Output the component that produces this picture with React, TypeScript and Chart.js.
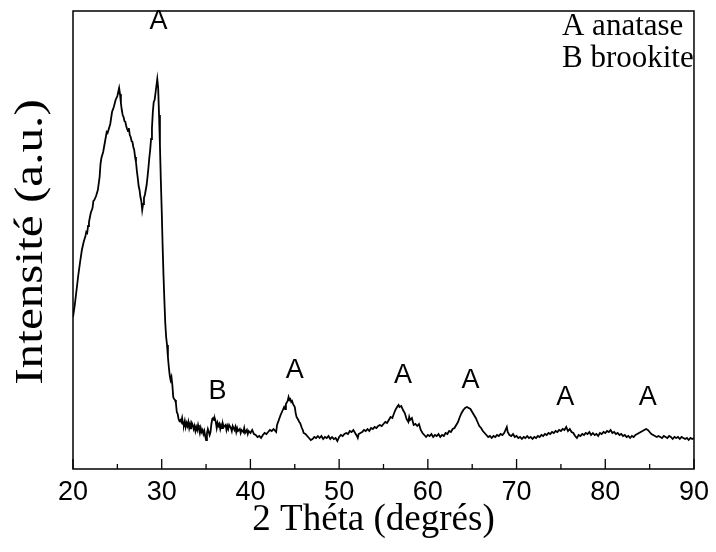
import React, { useEffect, useRef } from 'react';
import { Chart, registerables } from 'chart.js';

Chart.register(...registerables);

// XRD scan: [2θ (deg), intensity (a.u.)]
const xrdPattern: [number, number][] = [
  [20.0, 152], [20.2, 164], [20.4, 179], [20.6, 194], [20.8, 207], [21.0, 219], [21.2, 227], [21.4, 233],
  [21.5, 237], [21.6, 236], [21.7, 243], [21.8, 247], [22.0, 256], [22.2, 261], [22.3, 268], [22.4, 269],
  [22.6, 273], [22.8, 279], [23.0, 292], [23.1, 305], [23.2, 311], [23.4, 317], [23.6, 327], [23.8, 337],
  [23.9, 336], [24.0, 339], [24.2, 345], [24.4, 357], [24.6, 362], [24.8, 369], [25.0, 373], [25.1, 377],
  [25.2, 381], [25.3, 375], [25.4, 366], [25.5, 359], [25.6, 354], [25.7, 352], [25.8, 348], [25.9, 347],
  [26.0, 343], [26.1, 340], [26.2, 338], [26.3, 341], [26.4, 334], [26.5, 332], [26.6, 328], [26.7, 327],
  [26.8, 322], [26.9, 319], [27.0, 312], [27.1, 307], [27.2, 298], [27.3, 291], [27.4, 283], [27.5, 279],
  [27.6, 272], [27.7, 268], [27.8, 259], [27.9, 265], [28.0, 271], [28.1, 274], [28.2, 279], [28.3, 284],
  [28.4, 292], [28.5, 301], [28.6, 311], [28.7, 319], [28.8, 330], [28.9, 341], [29.0, 357], [29.1, 367],
  [29.2, 369], [29.3, 376], [29.4, 383], [29.5, 390], [29.6, 381], [29.7, 354], [29.8, 324], [29.9, 289],
  [30.0, 259], [30.1, 224], [30.2, 194], [30.3, 169], [30.4, 146], [30.5, 132], [30.6, 124], [30.7, 112],
  [30.8, 102], [30.9, 94], [31.0, 89], [31.1, 92], [31.2, 84], [31.3, 72], [31.4, 70], [31.5, 69],
  [31.6, 66], [31.7, 57], [31.8, 55], [31.9, 50], [32.0, 48], [32.1, 49], [32.2, 47], [32.3, 51],
  [32.4, 45], [32.5, 44], [32.6, 48], [32.7, 42], [32.8, 46], [32.9, 43], [33.0, 47], [33.1, 41],
  [33.2, 45], [33.3, 40], [33.4, 46], [33.5, 44], [33.6, 40], [33.7, 43], [33.8, 38], [33.9, 42],
  [34.0, 39], [34.1, 44], [34.2, 40], [34.3, 36], [34.4, 41], [34.5, 37], [34.6, 39], [34.7, 35],
  [34.8, 38], [34.9, 33], [35.0, 29], [35.1, 36], [35.2, 40], [35.3, 37], [35.4, 34], [35.5, 37],
  [35.6, 45], [35.7, 50], [35.8, 51], [35.9, 49], [36.0, 50], [36.1, 47], [36.2, 41], [36.3, 46],
  [36.4, 43], [36.5, 45], [36.6, 40], [36.7, 44], [36.8, 41], [36.9, 45], [37.0, 42], [37.2, 44],
  [37.3, 39], [37.4, 43], [37.5, 40], [37.6, 44], [37.8, 41], [37.9, 38], [38.0, 43], [38.2, 39],
  [38.3, 42], [38.4, 37], [38.5, 41], [38.6, 38], [38.8, 40], [38.9, 36], [39.0, 39], [39.2, 37],
  [39.3, 41], [39.4, 36], [39.6, 39], [39.7, 35], [39.8, 38], [40.0, 36], [40.2, 39], [40.4, 35],
  [40.6, 34], [40.8, 32], [41.0, 33], [41.2, 31], [41.4, 34], [41.6, 36], [41.8, 35], [42.0, 37],
  [42.2, 39], [42.4, 38], [42.6, 40], [42.8, 38], [42.9, 37], [43.0, 44], [43.2, 49], [43.4, 54],
  [43.6, 58], [43.8, 62], [43.9, 60], [44.0, 65], [44.2, 68], [44.3, 72], [44.4, 69], [44.5, 70],
  [44.6, 67], [44.7, 68], [44.8, 65], [45.0, 62], [45.1, 56], [45.2, 52], [45.4, 49], [45.5, 47],
  [45.6, 46], [45.8, 41], [45.9, 39], [46.0, 36], [46.2, 35], [46.4, 33], [46.6, 31], [46.8, 29],
  [47.0, 30], [47.2, 32], [47.4, 31], [47.6, 33], [47.8, 31], [48.0, 33], [48.2, 30], [48.4, 32],
  [48.6, 31], [48.8, 33], [49.0, 30], [49.2, 32], [49.4, 30], [49.6, 31], [49.8, 28], [50.0, 32],
  [50.2, 34], [50.4, 33], [50.6, 35], [50.8, 36], [51.0, 35], [51.2, 38], [51.4, 37], [51.6, 39],
  [51.8, 36], [52.0, 33], [52.1, 31], [52.2, 35], [52.4, 36], [52.6, 37], [52.8, 39], [53.0, 38],
  [53.2, 40], [53.4, 38], [53.6, 41], [53.8, 40], [54.0, 42], [54.2, 41], [54.4, 43], [54.6, 44],
  [54.8, 43], [55.0, 45], [55.2, 47], [55.4, 46], [55.6, 49], [55.8, 52], [56.0, 51], [56.2, 56],
  [56.4, 60], [56.6, 63], [56.7, 64], [56.8, 62], [57.0, 63], [57.2, 59], [57.4, 56], [57.6, 50],
  [57.8, 47], [57.9, 52], [58.0, 49], [58.2, 51], [58.4, 44], [58.6, 45], [58.8, 43], [59.0, 45],
  [59.2, 39], [59.4, 36], [59.6, 34], [59.8, 32], [60.0, 34], [60.2, 33], [60.4, 35], [60.6, 32],
  [60.8, 34], [61.0, 33], [61.2, 35], [61.4, 32], [61.6, 34], [61.8, 33], [62.0, 36], [62.2, 35],
  [62.4, 38], [62.6, 37], [62.8, 40], [63.0, 41], [63.2, 44], [63.4, 47], [63.6, 52], [63.8, 56],
  [64.0, 59], [64.2, 61], [64.4, 62], [64.6, 61], [64.8, 60], [65.0, 57], [65.2, 54], [65.4, 51],
  [65.6, 47], [65.8, 43], [66.0, 41], [66.2, 38], [66.4, 36], [66.6, 34], [66.8, 32], [67.0, 33],
  [67.2, 31], [67.4, 33], [67.6, 32], [67.8, 34], [68.0, 33], [68.2, 35], [68.4, 34], [68.6, 36],
  [68.8, 40], [68.9, 42], [69.0, 37], [69.2, 34], [69.4, 33], [69.6, 35], [69.8, 32], [70.0, 33],
  [70.2, 31], [70.4, 32], [70.6, 30], [70.8, 32], [71.0, 31], [71.2, 33], [71.4, 31], [71.6, 32],
  [71.8, 30], [72.0, 32], [72.2, 31], [72.4, 33], [72.6, 32], [72.8, 34], [73.0, 33], [73.2, 35],
  [73.4, 34], [73.6, 36], [73.8, 35], [74.0, 37], [74.2, 36], [74.4, 38], [74.6, 37], [74.8, 39],
  [75.0, 38], [75.2, 40], [75.4, 39], [75.6, 42], [75.8, 38], [76.0, 40], [76.2, 37], [76.4, 36],
  [76.6, 33], [76.8, 31], [77.0, 34], [77.2, 33], [77.4, 35], [77.6, 34], [77.8, 36], [78.0, 35],
  [78.2, 37], [78.4, 34], [78.6, 36], [78.8, 34], [79.0, 35], [79.2, 33], [79.4, 36], [79.6, 35],
  [79.8, 37], [80.0, 36], [80.2, 38], [80.4, 37], [80.6, 39], [80.8, 36], [81.0, 37], [81.2, 35],
  [81.4, 36], [81.6, 34], [81.8, 35], [82.0, 33], [82.2, 34], [82.4, 32], [82.6, 33], [82.8, 31],
  [83.0, 33], [83.2, 32], [83.4, 34], [83.6, 35], [83.8, 36], [84.0, 37], [84.2, 38], [84.4, 39],
  [84.6, 40], [84.8, 39], [85.0, 37], [85.2, 35], [85.4, 34], [85.6, 33], [85.8, 32], [86.0, 33],
  [86.2, 32], [86.4, 31], [86.6, 33], [86.8, 32], [87.0, 31], [87.2, 33], [87.4, 32], [87.6, 30],
  [87.8, 32], [88.0, 31], [88.2, 32], [88.4, 30], [88.6, 32], [88.8, 31], [89.0, 30], [89.2, 31],
  [89.4, 29], [89.6, 31], [89.8, 30], [90.0, 31],
];

const peakLabelText = ['A', 'B', 'A', 'A', 'A', 'A', 'A'];
const peakLabelX = [29.65, 36.3, 45.0, 57.2, 64.8, 75.5, 84.8];
const peakLabelY = [447, 77, 98, 93, 88, 71, 71];

const legendLines = ['A anatase', 'B brookite'];

const xTitle = '2 Théta (degrés)';
const yTitle = 'Intensité (a.u.)';

const X_MIN = 20;
const X_MAX = 90;
const X_MAJOR = 10;
const Y_MIN = 0;
const Y_MAX = 458;

const SERIF = '"Liberation Serif", "Times New Roman", serif';
const SANS = '"Liberation Sans", Arial, sans-serif';

const annotationPlugin = {
  id: 'xrdAnnotations',
  afterDatasetsDraw(chart: any) {
    const { ctx, chartArea: a, scales } = chart;
    const xs = scales.x;
    const ys = scales.y;
    ctx.save();
    // frame
    ctx.strokeStyle = '#000';
    ctx.lineWidth = 1.5;
    ctx.strokeRect(a.left, a.top, a.right - a.left, a.bottom - a.top);
    // inward major + minor ticks on bottom axis
    const majors: number[] = xs.ticks.map((t: any) => t.value);
    ctx.lineWidth = 1.3;
    majors.forEach((v, i) => {
      const px = xs.getPixelForValue(v);
      ctx.beginPath();
      ctx.moveTo(px, a.bottom);
      ctx.lineTo(px, a.bottom - 10);
      ctx.stroke();
      if (i < majors.length - 1) {
        const mx = xs.getPixelForValue((v + majors[i + 1]) / 2);
        ctx.beginPath();
        ctx.moveTo(mx, a.bottom);
        ctx.lineTo(mx, a.bottom - 5);
        ctx.stroke();
      }
    });
    // peak labels
    ctx.fillStyle = '#000';
    ctx.font = `27px ${SANS}`;
    ctx.textAlign = 'center';
    ctx.textBaseline = 'middle';
    peakLabelText.forEach((t, i) => {
      ctx.fillText(t, xs.getPixelForValue(peakLabelX[i]), ys.getPixelForValue(peakLabelY[i]));
    });
    // legend text
    ctx.font = `31px ${SERIF}`;
    ctx.textAlign = 'left';
    ctx.textBaseline = 'alphabetic';
    legendLines.forEach((t, i) => {
      ctx.fillText(t, a.right - 132, a.top + 24 + i * 32);
    });
    // axis titles
    ctx.font = `37px ${SERIF}`;
    ctx.textAlign = 'center';
    ctx.textBaseline = 'middle';
    ctx.fillText(xTitle, (a.left + a.right) / 2 - 10, a.bottom + 51);
    ctx.save();
    ctx.translate(31, (a.top + a.bottom) / 2 + 2);
    ctx.rotate(-Math.PI / 2);
    ctx.scale(1.2, 1);
    ctx.font = `41px ${SERIF}`;
    ctx.fillText(yTitle, 0, 0);
    ctx.restore();
    ctx.restore();
  },
};

export default function App() {
  const canvasRef = useRef<HTMLCanvasElement | null>(null);

  useEffect(() => {
    if (!canvasRef.current) return;
    const chart = new Chart(canvasRef.current, {
      type: 'line',
      data: {
        datasets: [
          {
            data: xrdPattern.map(([x, y]) => ({ x, y })),
            borderColor: '#000',
            borderWidth: 1.8,
            pointRadius: 0,
            tension: 0,
            fill: false,
          },
        ],
      },
      options: {
        responsive: false,
        animation: false,
        layout: { padding: { top: 11, right: 19, left: 0, bottom: 0 } },
        plugins: { legend: { display: false }, tooltip: { enabled: false } },
        scales: {
          x: {
            type: 'linear',
            min: X_MIN,
            max: X_MAX,
            ticks: {
              stepSize: X_MAJOR,
              color: '#000',
              padding: 7,
              font: { size: 27, family: SANS },
            },
            grid: { display: false, drawTicks: false },
            border: { display: false },
            title: { display: false },
            afterFit: (s: any) => {
              s.height = 83;
            },
          },
          y: {
            type: 'linear',
            min: Y_MIN,
            max: Y_MAX,
            ticks: { display: false },
            grid: { display: false, drawTicks: false },
            border: { display: false },
            title: { display: false },
            afterFit: (s: any) => {
              s.width = 73;
            },
          },
        },
      },
      plugins: [annotationPlugin],
    });
    return () => chart.destroy();
  }, []);

  return (
    <div style={{ position: 'fixed', left: 0, top: 0, width: 716, height: 552, background: '#fff' }}>
      <canvas ref={canvasRef} width={716} height={552} style={{ width: 716, height: 552 }} />
    </div>
  );
}
